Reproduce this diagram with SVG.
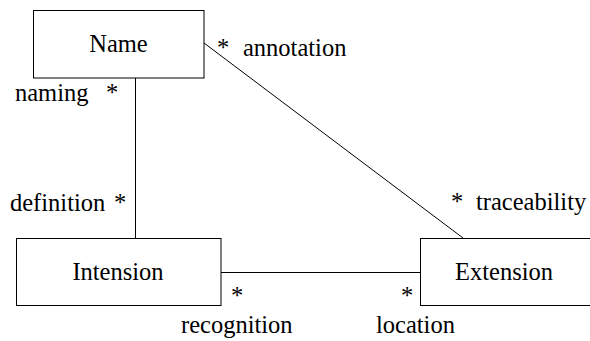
<svg xmlns="http://www.w3.org/2000/svg" width="590" height="341" viewBox="0 0 590 341">
  <rect width="590" height="341" fill="#ffffff"/>

  <!-- association lines with their role names and multiplicities -->
  <g id="connectors">
    <line x1="135.5" y1="78" x2="135.5" y2="238" stroke="#000000" stroke-width="1"/>
    <line x1="204" y1="43" x2="463" y2="238" stroke="#000000" stroke-width="1"/>
    <line x1="221" y1="272.5" x2="420" y2="272.5" stroke="#000000" stroke-width="1"/>
    <text x="15" y="101" font-family="Times New Roman, serif" font-size="24.5">naming</text>
    <text x="106" y="101" font-family="Times New Roman, serif" font-size="24.5">*</text>
    <text x="10" y="210.5" font-family="Times New Roman, serif" font-size="24.5">definition</text>
    <text x="114" y="210.5" font-family="Times New Roman, serif" font-size="24.5">*</text>
    <text x="217" y="56" font-family="Times New Roman, serif" font-size="24.5">*</text>
    <text x="243" y="56" font-family="Times New Roman, serif" font-size="24.5">annotation</text>
    <text x="451" y="210" font-family="Times New Roman, serif" font-size="24.5">*</text>
    <text x="476" y="210" font-family="Times New Roman, serif" font-size="24.5">traceability</text>
    <text x="231" y="304" font-family="Times New Roman, serif" font-size="24.5">*</text>
    <text x="181" y="333" font-family="Times New Roman, serif" font-size="24.5">recognition</text>
    <text x="401" y="304" font-family="Times New Roman, serif" font-size="24.5">*</text>
    <text x="376" y="333" font-family="Times New Roman, serif" font-size="24.5">location</text>
  </g>

  <g id="name">
    <rect x="33.5" y="10.5" width="170.5" height="67.5" fill="#ffffff" stroke="#000000" stroke-width="1"/>
    <text x="118.5" y="51.5" text-anchor="middle" font-family="Times New Roman, serif" font-size="24.5">Name</text>
  </g>

  <g id="intension">
    <rect x="16.5" y="238.5" width="204.5" height="67" fill="#ffffff" stroke="#000000" stroke-width="1"/>
    <text x="118" y="279.5" text-anchor="middle" font-family="Times New Roman, serif" font-size="24.5">Intension</text>
  </g>

  <g id="extension">
    <rect x="420.5" y="238.5" width="180" height="67" fill="#ffffff" stroke="#000000" stroke-width="1"/>
    <text x="455" y="279.5" font-family="Times New Roman, serif" font-size="24.5">Extension</text>
  </g>
</svg>
